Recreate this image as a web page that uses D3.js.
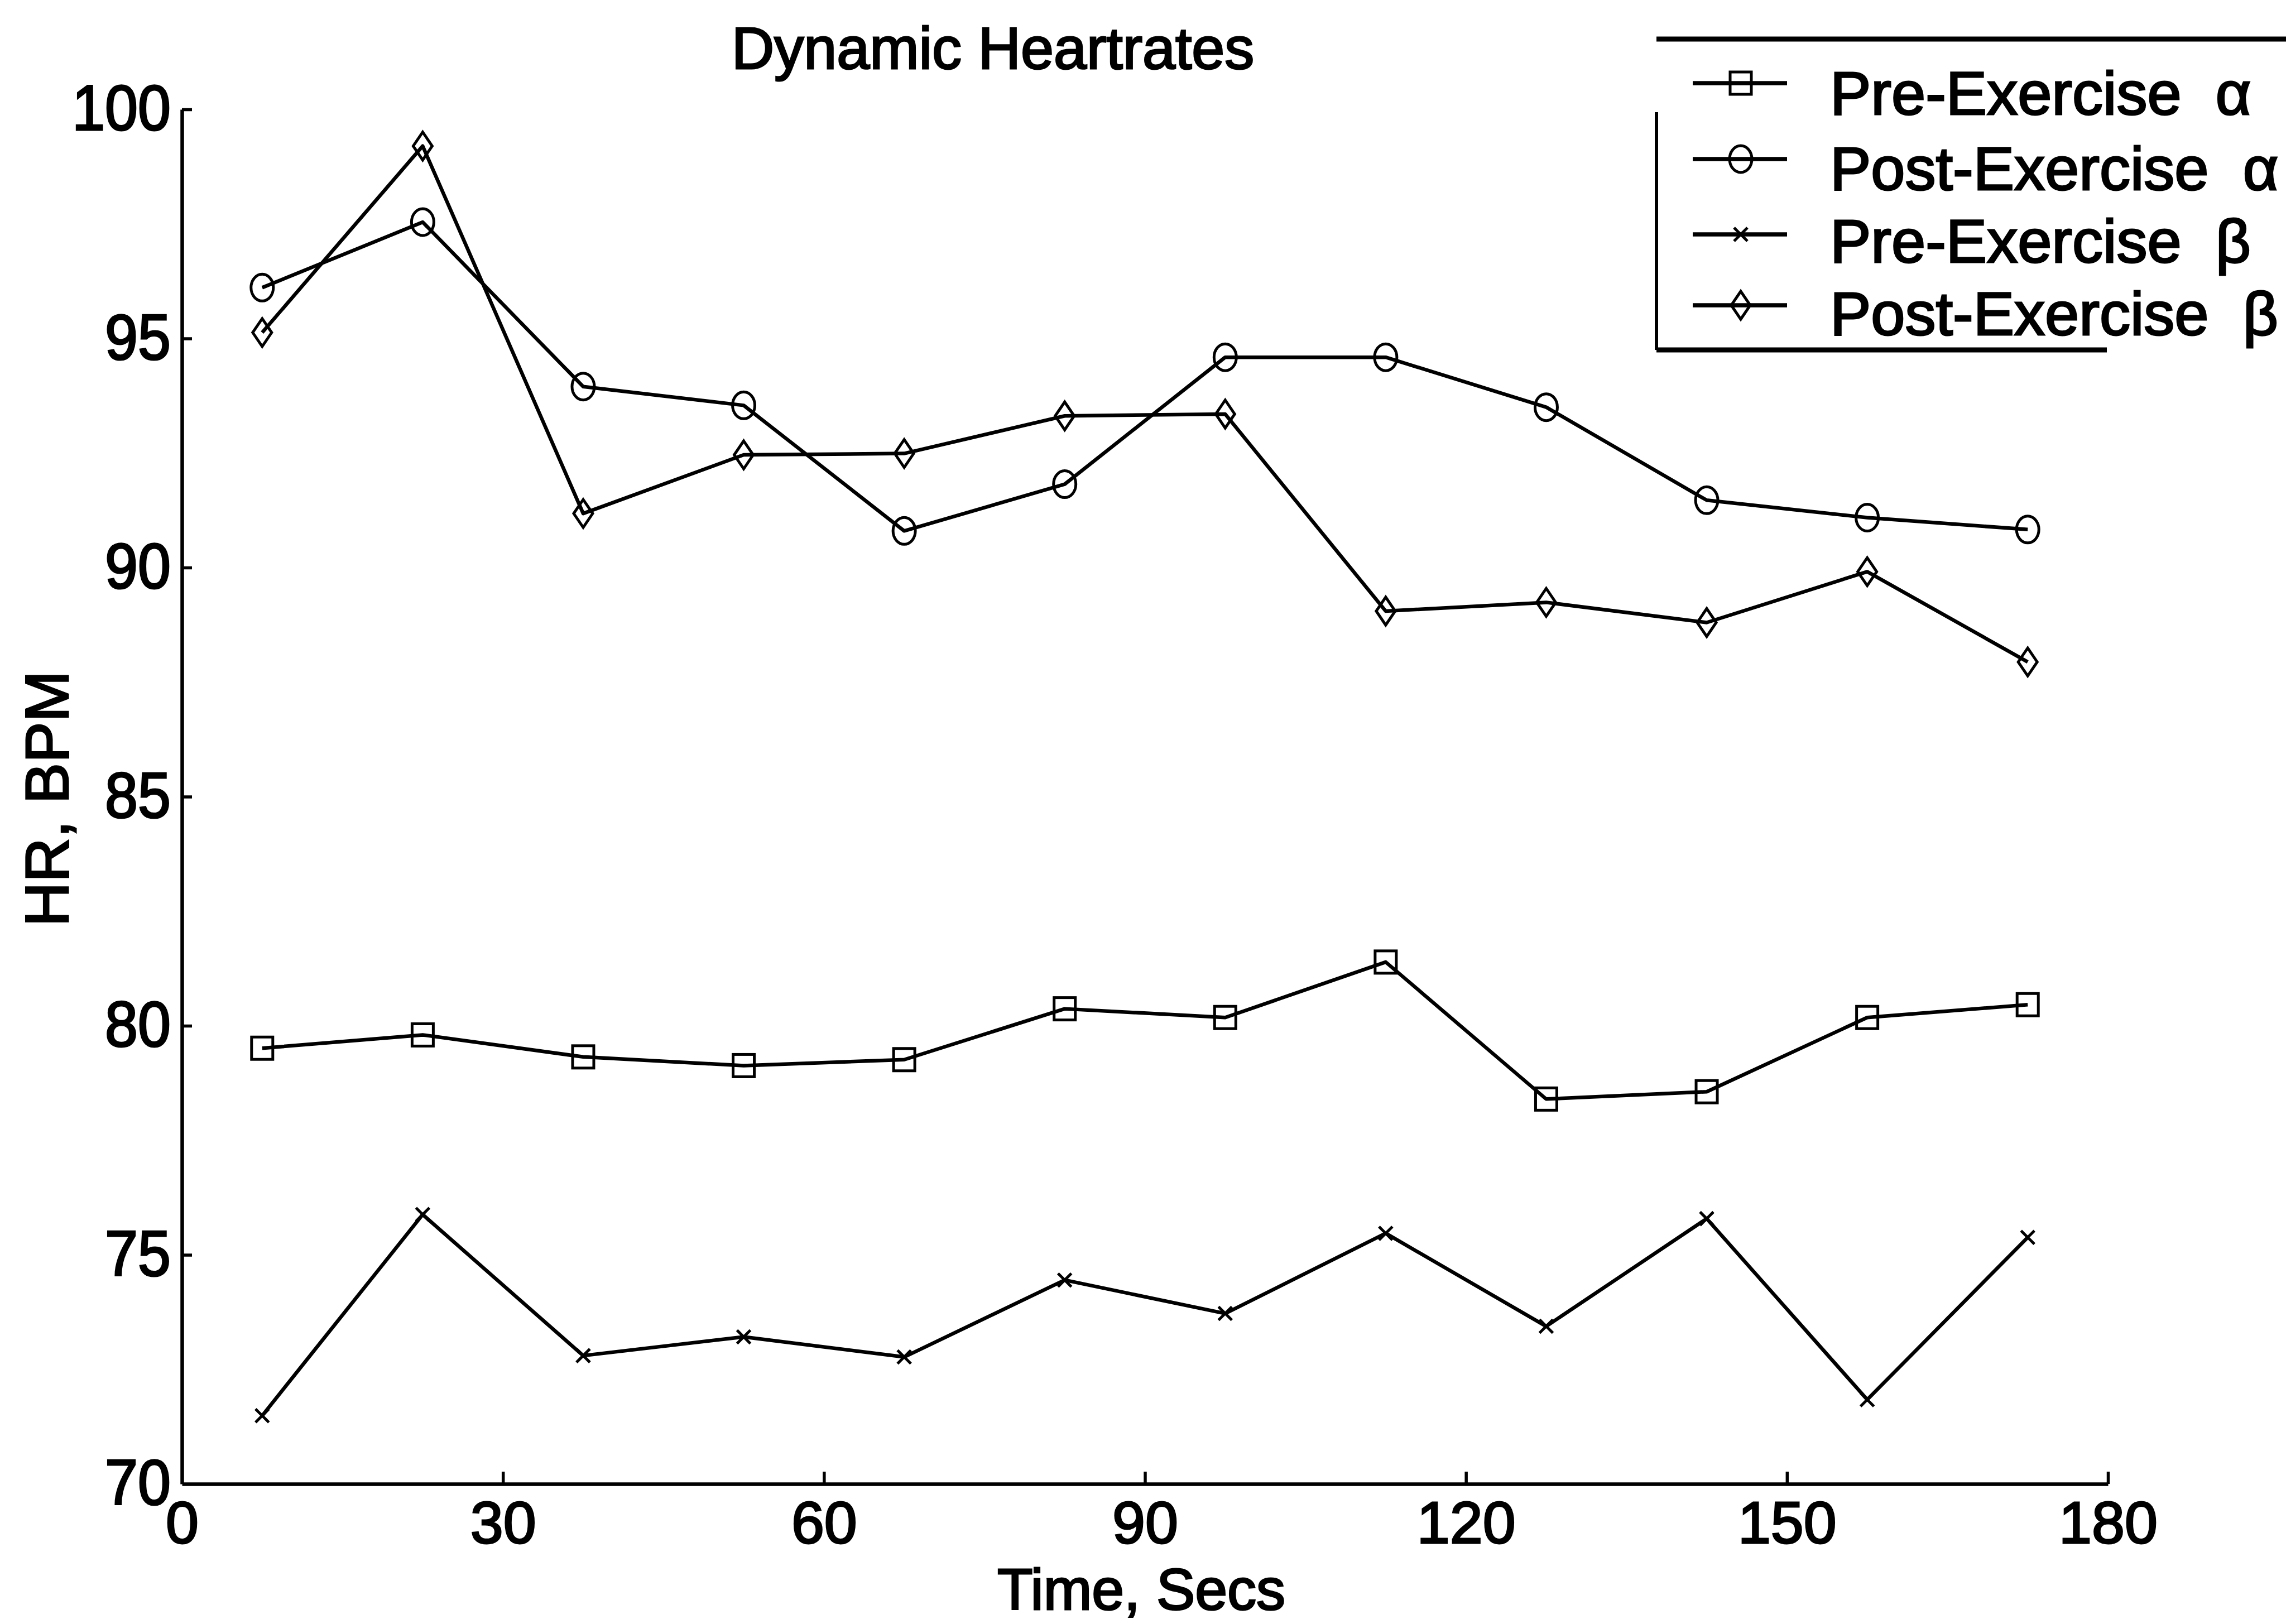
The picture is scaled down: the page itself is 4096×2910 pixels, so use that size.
<!DOCTYPE html>
<html>
<head>
<meta charset="utf-8">
<script src="https://cdn.jsdelivr.net/npm/d3@7"></script>
<style>
  html, body { margin: 0; padding: 0; background: #fff; }
  svg { display: block; }
  text { font-family: "Liberation Sans", Arial, Helvetica, sans-serif; fill: #000; stroke: #000; stroke-width: 3px; }
</style>
</head>
<body>
<svg id="chart" width="4096" height="2910"></svg>
<script>
// ---- data ----
const times = [7.5, 22.5, 37.5, 52.5, 67.5, 82.5, 97.5, 112.5, 127.5, 142.5, 157.5, 172.5];
const preAlpha  = [79.51, 79.80, 79.32, 79.13, 79.26, 80.37, 80.18, 81.39, 78.40, 78.56, 80.18, 80.46];
const postAlpha = [96.11, 97.54, 93.95, 93.54, 90.80, 91.82, 94.59, 94.59, 93.50, 91.47, 91.09, 90.83];
const preBeta   = [71.49, 75.88, 72.80, 73.21, 72.77, 74.45, 73.72, 75.47, 73.44, 75.79, 71.84, 75.38];
const postBeta  = [95.13, 99.20, 91.18, 92.46, 92.49, 93.31, 93.35, 89.05, 89.24, 88.80, 89.91, 87.94];
const xTicks = [0, 30, 60, 90, 120, 150, 180];
const yTicks = [70, 75, 80, 85, 90, 95, 100];
const seriesNames = ["Pre-Exercise\u00A0 α", "Post-Exercise\u00A0 α", "Pre-Exercise\u00A0 β", "Post-Exercise\u00A0 β"];
const seriesMarkers = ["square", "circle", "x", "diamond"];
const titleText = "Dynamic Heartrates";
const xLabel = "Time, Secs";
const yLabel = "HR, BPM";

const series = [preAlpha, postAlpha, preBeta, postBeta].map((vals, i) => ({
  name: seriesNames[i], marker: seriesMarkers[i],
  points: vals.map((v, j) => ({ t: times[j], v }))
}));

// ---- layout ----
const svg = d3.select("#chart");
const x = d3.scaleLinear().domain([0, 180]).range([326, 3777]);
const y = d3.scaleLinear().domain([70, 100]).range([2659, 196]);
const LW = 6.5;

// title
svg.append("text").attr("x", 1779).attr("y", 123).attr("text-anchor", "middle")
  .attr("font-size", 106).text(titleText);

// axes
const gx = svg.append("g").attr("transform", `translate(0,${y(70)})`)
  .call(d3.axisBottom(x).tickValues(xTicks).tickFormat(d3.format("d")).tickSizeInner(-22).tickSizeOuter(0).tickPadding(30));
const gy = svg.append("g").attr("transform", `translate(${x(0)},0)`)
  .call(d3.axisLeft(y).tickValues(yTicks).tickFormat(d3.format("d")).tickSizeInner(-18).tickSizeOuter(0).tickPadding(20));
[gx, gy].forEach(g => {
  g.select(".domain").attr("stroke", "#000").attr("stroke-width", LW);
  g.selectAll(".tick line").attr("stroke", "#000").attr("stroke-width", LW - 1);
  g.selectAll(".tick text").attr("font-size", 106).attr("fill", "#000")
    .attr("stroke", "#000").attr("stroke-width", 3)
    .style("font-family", '"Liberation Sans", Arial, sans-serif');
});
gx.selectAll(".tick text").attr("dy", "0.72em");
gy.selectAll(".tick text").attr("transform", "scale(1,1.08)");
// the y=70 tick sits on the x-axis
gy.selectAll(".tick").filter(d => d === 70).select("line").remove();
gx.selectAll(".tick").filter(d => d === 0).select("line").remove();

// axis labels
svg.append("text").attr("x", 2045).attr("y", 2884).attr("text-anchor", "middle")
  .attr("font-size", 104).text(xLabel);
svg.append("text").attr("transform", `translate(122,1431) rotate(-90)`).attr("text-anchor", "middle")
  .attr("font-size", 110).text(yLabel);

// markers
function drawMarker(g, type, cx, cy) {
  const s = { stroke: "#000", "stroke-width": 5, fill: "none" };
  let el;
  if (type === "square") el = g.append("rect").attr("x", cx - 19).attr("y", cy - 20).attr("width", 38).attr("height", 40);
  else if (type === "circle") el = g.append("ellipse").attr("cx", cx).attr("cy", cy).attr("rx", 20).attr("ry", 24);
  else if (type === "diamond") el = g.append("path").attr("d", `M${cx},${cy - 25}L${cx + 17},${cy}L${cx},${cy + 25}L${cx - 17},${cy}Z`);
  else el = g.append("path").attr("d", `M${cx - 12},${cy - 12}L${cx + 12},${cy + 12}M${cx - 12},${cy + 12}L${cx + 12},${cy - 12}`);
  Object.entries(s).forEach(([k, v]) => el.attr(k, v));
}

const line = d3.line().x(d => x(d.t)).y(d => y(d.v));
series.forEach(s => {
  const g = svg.append("g");
  g.append("path").attr("d", line(s.points)).attr("fill", "none")
    .attr("stroke", "#000").attr("stroke-width", LW).attr("stroke-linejoin", "round");
  s.points.forEach(p => drawMarker(g, s.marker, x(p.t), y(p.v)));
});

// legend
const lg = svg.append("g");
const box = { l: 2968, t: 70, b: 627, r: 3775 };
lg.append("line").attr("x1", box.l).attr("x2", 4096).attr("y1", box.t).attr("y2", box.t).attr("stroke", "#000").attr("stroke-width", 9);
lg.append("line").attr("x1", box.l).attr("x2", box.l).attr("y1", 201).attr("y2", box.b).attr("stroke", "#000").attr("stroke-width", 6);
lg.append("line").attr("x1", box.l).attr("x2", box.r).attr("y1", box.b).attr("y2", box.b).attr("stroke", "#000").attr("stroke-width", 9);
const rowY = [149, 285, 420, 547];
const rowBase = [205, 340, 470, 600];
series.forEach((s, i) => {
  lg.append("line").attr("x1", 3033).attr("x2", 3202).attr("y1", rowY[i]).attr("y2", rowY[i])
    .attr("stroke", "#000").attr("stroke-width", LW + 1);
  drawMarker(lg, s.marker, 3119, rowY[i]);
  lg.append("text").attr("x", 3279).attr("y", rowBase[i]).attr("font-size", 110)
    .style("white-space", "pre").text(s.name);
});
</script>
</body>
</html>
